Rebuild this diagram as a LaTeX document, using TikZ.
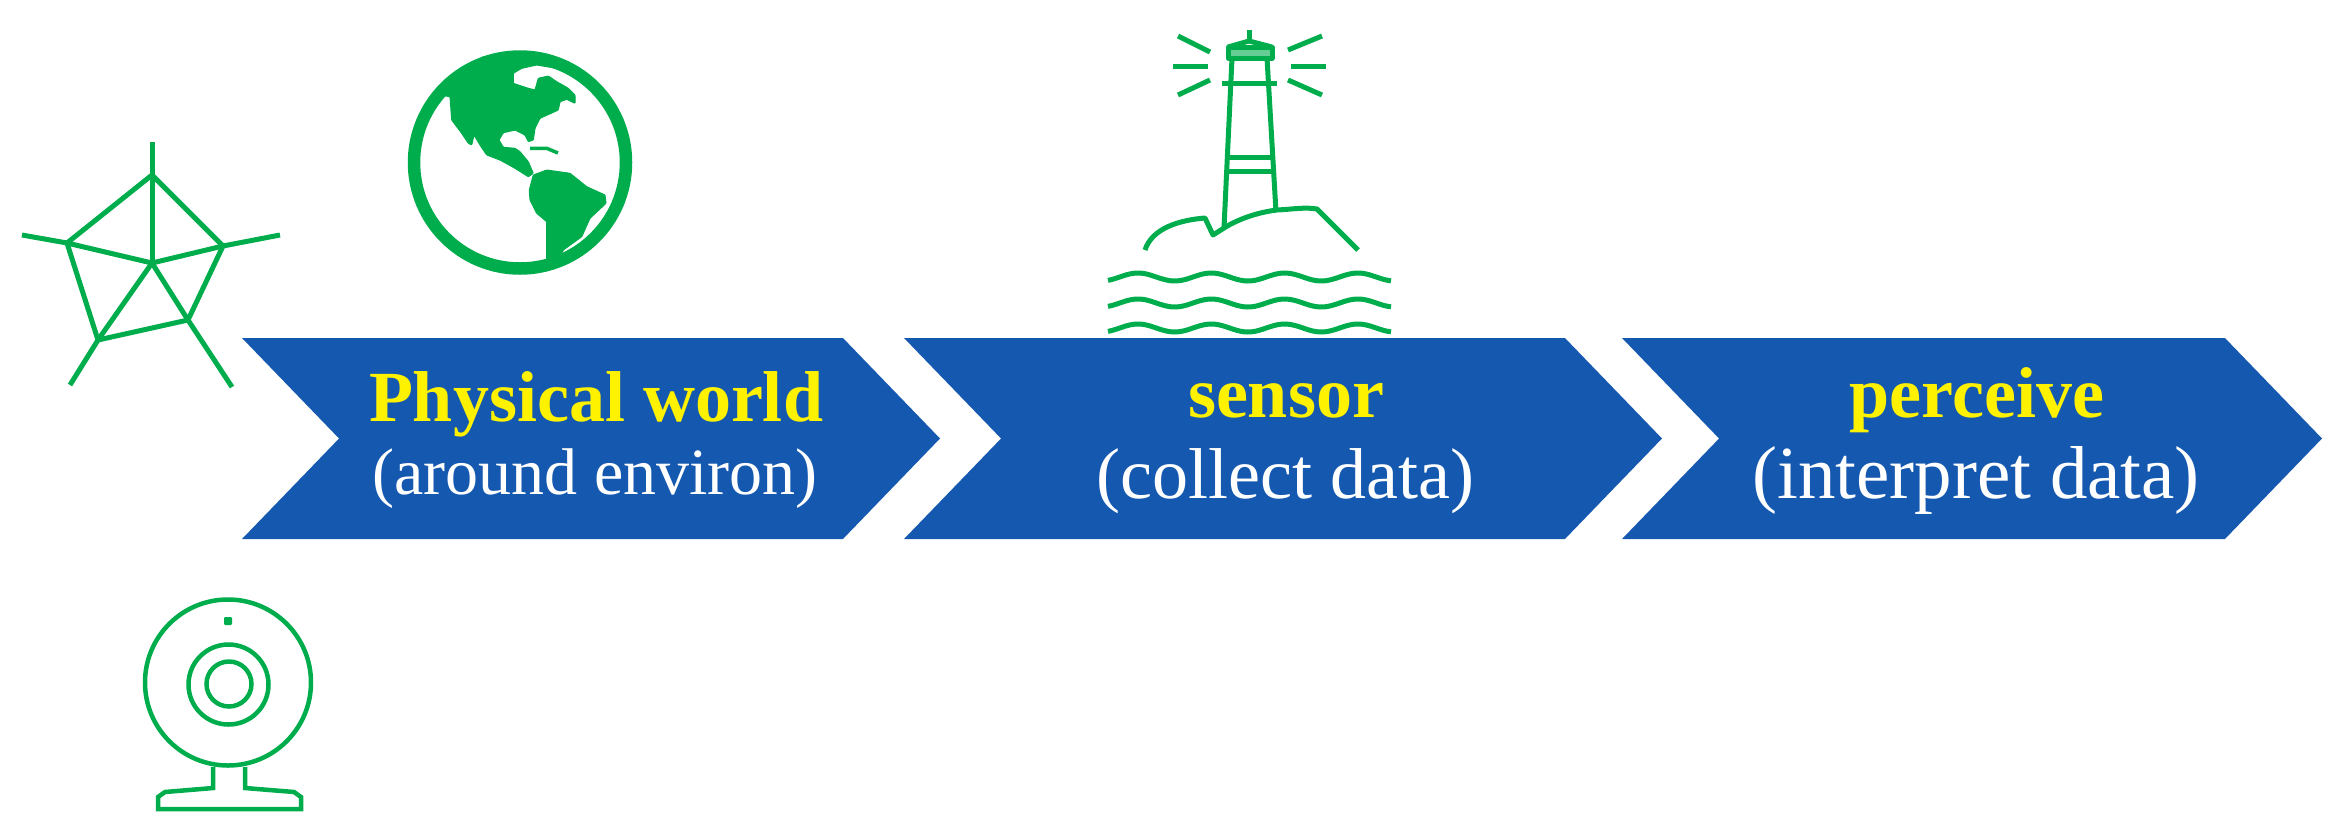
\documentclass[tikz,border=0pt]{standalone}
\usepackage{fontspec}
\setmainfont{Liberation Serif}
\usetikzlibrary{positioning}
\usetikzlibrary{shapes.symbols}
\definecolor{chevblue}{HTML}{1558B0}
\definecolor{icongreen}{HTML}{00AD4C}
\tikzset{
  chevron/.style={shape=signal, signal from=west, signal to=east, signal pointer angle=92,
    fill=chevblue, minimum height=201pt, inner sep=0pt, outer sep=0pt},
  chevtitle/.style={anchor=base, inner sep=0pt, text=yellow, font=\fontsize{72}{72}\selectfont\bfseries},
  chevnote/.style={anchor=base, inner sep=0pt, text=white},
  iconline/.style={draw=icongreen, line width=5pt, line join=round},
  iconthin/.style={draw=icongreen, line width=4.5pt},
  iconfill/.style={fill=icongreen, draw=icongreen, line width=1pt, rounded corners=0.8pt}
}
\begin{document}
\begin{tikzpicture}[x=1pt, y=-1pt]
  \useasboundingbox (0,0) rectangle (2331,823);
  \node[chevron, minimum width=698pt] (world) at (591,438.5) {};
  \node[chevron, minimum width=758pt, right=-36pt of world.east, anchor=center, xshift=379pt] (sensor) {};
  \node[chevron, minimum width=700pt, right=-40pt of sensor.east, anchor=center, xshift=350pt] (perceive) {};

  \node[chevtitle] (worldtitle) at (596,421) {Physical world};
  \node[chevnote, font=\fontsize{66}{66}\selectfont] (worldnote) at (595,494) {(around environ)};
  \node[chevtitle] (sensortitle) at (1286,417) {sensor};
  \node[chevnote, font=\fontsize{72}{72}\selectfont] (sensornote) at (1285,498) {(collect data)};
  \node[chevtitle] (perceivetitle) at (1977,417) {perceive};
  \node[chevnote, font=\fontsize{75}{75}\selectfont] (perceivenote) at (1976,498) {(interpret data)};

  % radar
  \begin{scope}[iconline]
    \draw (152,142) -- (152,263);
    \draw (22,235) -- (67,243) -- (152,263) -- (223,246) -- (280,235);
    \draw (70,385) -- (98,340) -- (152,263) -- (188,320) -- (232,387);
    \draw (152,175) -- (223,246) -- (188,320) -- (98,340) -- (67,243) -- cycle;
  \end{scope}

  % globe
  \draw[icongreen, line width=12.5pt] (520,162.5) circle (106);
  \path[iconfill] (440,95) -- (450,96.7) -- (451.7,120) -- (461.7,133.3) -- (468.3,143.3) -- (471.7,145)
    -- (474,135) -- (480,145) -- (486.7,155) -- (500,160) -- (515,168.3) -- (528.3,176.7)
    -- (533.3,173.3) -- (528.3,161.7) -- (520,151.7) -- (515,148.3) -- (503.3,147.3) -- (499,140)
    -- (503.3,132.7) -- (515,130) -- (525,135) -- (528.3,141.7) -- (533.3,140) -- (535,128.3)
    -- (540,118.3) -- (558.3,110) -- (560,101.7) -- (566.7,99.3) -- (575,103.3) -- (575,95)
    -- (568.3,88.3) -- (556.7,81.7) -- (548.3,76) -- (538.3,78.3) -- (535,90) -- (528.3,88.3)
    -- (513.3,83.3) -- (513.3,73.3) -- (521.7,68.3) -- (536.7,65) -- (556.7,68.3) -- (546.7,55)
    -- (520,53.3) -- (483.3,56.7) -- (456.7,73.3) -- cycle;
  \draw[icongreen, line width=3.5pt] (530,148.3) -- (546.7,148.3) -- (558,153);
  \path[iconfill] (533.3,175) -- (546.7,170) -- (570,173.3) -- (586.7,186.7) -- (605,195)
    -- (606,203.3) -- (590,218.3) -- (581.7,236.7) -- (563.3,250) -- (560,256.7) -- (546.7,260)
    -- (546.7,221.7) -- (536.7,213.3) -- (530,200) -- (529.3,190) -- cycle;

  % lighthouse
  \begin{scope}[iconline]
    \draw (1178,36) -- (1210,52);
    \draw (1173,66) -- (1208,66);
    \draw (1178,95) -- (1210,80);
    \draw (1322,36) -- (1288,50);
    \draw (1326,66) -- (1291,66);
    \draw (1322,95) -- (1288,80);
    \draw (1249,30) -- (1249,42);
    \draw (1228,47) -- (1249,41) -- (1272,47);
    \draw[fill=icongreen!60] (1228,47) rectangle (1272,58);
    \draw (1232,58) -- (1224,228);
    \draw (1267,58) -- (1276,212);
    \draw (1222,83) -- (1277,83);
    \draw (1229,157) -- (1272,157);
    \draw (1228,171) -- (1273,171);
    \draw (1145,250) .. controls (1152,228) and (1180,220) .. (1205,218) -- (1213,235)
      -- (1224,228) .. controls (1240,218) and (1260,212) .. (1277,210)
      .. controls (1295,209) and (1305,207) .. (1317,209) -- (1358,250);
    \foreach \wavey in {277,303,328}
      \draw plot[domain=1108:1391, samples=80, smooth] (\x,{\wavey-4*cos((\x-1138)*4.911)});
  \end{scope}

  % webcam
  \begin{scope}[iconthin]
    \draw (228,682.5) circle (83);
    \draw (228.5,684.5) circle (40);
    \draw (229,684) circle (22.5);
    \path[iconfill] (224.5,617.5) rectangle (231.5,624.5);
    \draw (213,767) -- (213,788) -- (165,792) -- (158,797) -- (158,809)
      -- (301,809) -- (301,797) -- (294,792) -- (245,788) -- (245,767);
  \end{scope}
\end{tikzpicture}
\end{document}
